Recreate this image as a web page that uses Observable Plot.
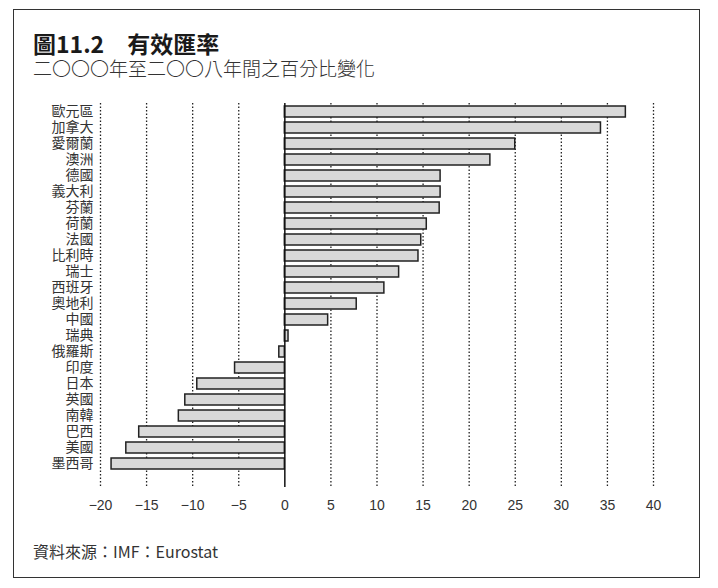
<!DOCTYPE html>
<html><head><meta charset="utf-8">
<script src="https://cdn.jsdelivr.net/npm/d3@7"></script>
<script src="https://cdn.jsdelivr.net/npm/@observablehq/plot@0.6"></script>
<style>
body{margin:0;background:#fff;}
#wrap{position:relative;width:718px;height:588px;font-family:"Noto Sans CJK TC","Noto Sans",sans-serif;color:#333;}
#frame{position:absolute;left:13px;top:9px;width:687px;height:569px;border:1.5px solid #333;box-sizing:border-box;}
#title{position:absolute;left:33px;top:31px;font-size:23px;line-height:24px;font-weight:bold;color:#1a1a1a;white-space:nowrap;}
#subtitle{position:absolute;left:33px;top:58px;font-size:19px;line-height:20px;font-weight:300;color:#333;white-space:nowrap;}
#source{position:absolute;left:33px;top:542px;font-size:16px;line-height:18px;color:#333;white-space:nowrap;}
#chart{position:absolute;left:0;top:95px;}
</style></head>
<body>
<div id="wrap">
  <div id="frame"></div>
  <div id="title">圖11.2　有效匯率</div>
  <div id="subtitle">二〇〇〇年至二〇〇八年間之百分比變化</div>
  <div id="chart"></div>
  <div id="source">資料來源：IMF：Eurostat</div>
</div>
<script>
const countries = ["歐元區","加拿大","愛爾蘭","澳洲","德國","義大利","芬蘭","荷蘭","法國","比利時","瑞士","西班牙","奧地利","中國","瑞典","俄羅斯","印度","日本","英國","南韓","巴西","美國","墨西哥"];
const values = [37.0,34.3,25.0,22.3,16.9,16.9,16.8,15.4,14.8,14.5,12.4,10.8,7.8,4.7,0.4,-0.6,-5.4,-9.5,-10.8,-11.5,-15.8,-17.2,-18.8];
const ticks = [-20,-15,-10,-5,0,5,10,15,20,25,30,35,40];

const data = countries.map((c, i) => ({country: c, value: values[i]}));

const chart = Plot.plot({
  width: 718,
  height: 422,
  marginTop: 8,
  marginBottom: 30,
  marginLeft: 100,
  marginRight: 65,
  style: {color: "#333", background: "transparent"},
  x: {domain: [-20, 40], ticks: ticks, label: null},
  y: {domain: countries, range: [4.1, 382], padding: 0.285, label: null},
  marks: [
    Plot.ruleX(ticks.filter(t => t !== 0), {stroke: "#222", strokeWidth: 1.3, strokeDasharray: "1.5,2"}),
    Plot.barX(data, {x: "value", y: "country", fill: "#d9d9d9", stroke: "#222", strokeWidth: 1.5}),
    Plot.ruleX([0], {stroke: "#111", strokeWidth: 1.5}),
    Plot.axisX({ticks: ticks, tickSize: 0, tickPadding: 13, fontSize: 14, fontFamily: "'Liberation Sans Narrow','Liberation Sans',sans-serif", label: null}),
    Plot.axisY({tickSize: 0, tickPadding: 7, fontSize: 14, fontFamily: "'Noto Sans CJK TC',sans-serif", label: null})
  ]
});
document.getElementById("chart").appendChild(chart);
</script>
</body></html>
